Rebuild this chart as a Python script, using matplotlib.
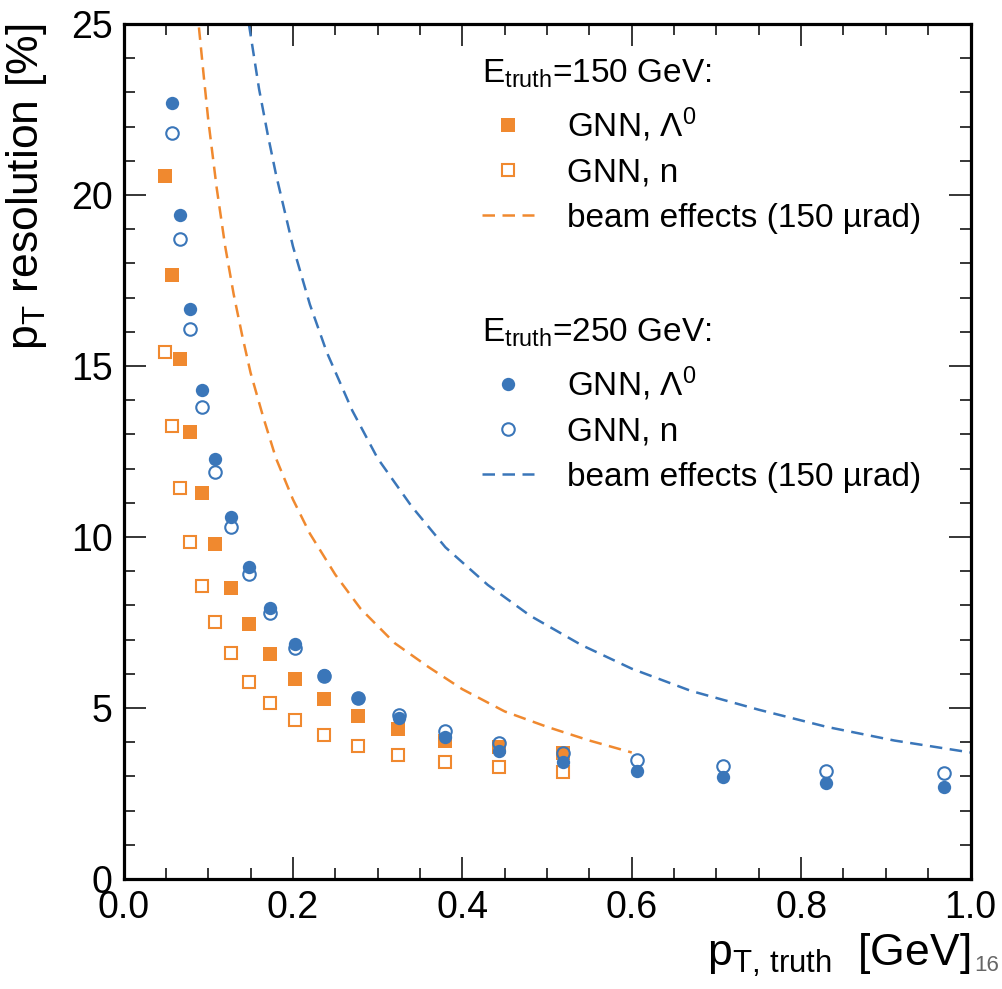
import matplotlib
matplotlib.use('Agg')
import matplotlib.pyplot as plt
from matplotlib.ticker import MultipleLocator

plt.rcParams['font.family'] = ['Liberation Sans', 'DejaVu Sans']
plt.rcParams['mathtext.fontset'] = 'custom'
plt.rcParams['mathtext.rm'] = 'Liberation Sans'
plt.rcParams['mathtext.it'] = 'Liberation Sans:italic'

orange = '#f0892f'
blue = '#3a76b9'

# E_truth = 150 GeV
pt_150 = [0.0486, 0.0569, 0.0667, 0.0785, 0.0923, 0.108, 0.1266, 0.148, 0.173,
          0.2025, 0.2367, 0.277, 0.3245, 0.3795, 0.443, 0.5186]
res_150_lambda = [20.56, 17.66, 15.20, 13.08, 11.30, 9.81, 8.52, 7.45, 6.58,
                  5.85, 5.25, 4.77, 4.38, 4.04, 3.87, 3.69]
res_150_n = [15.40, 13.25, 11.42, 9.86, 8.57, 7.52, 6.60, 5.77, 5.16,
             4.65, 4.21, 3.90, 3.63, 3.43, 3.27, 3.14]

# E_truth = 250 GeV
pt_250 = [0.0569, 0.0667, 0.0785, 0.0923, 0.108, 0.1266, 0.148, 0.173, 0.2025,
          0.2367, 0.277, 0.3253, 0.3795, 0.443, 0.5186, 0.606, 0.708, 0.829, 0.969]
res_250_lambda = [22.68, 19.43, 16.68, 14.30, 12.29, 10.59, 9.13, 7.92, 6.86,
                  5.97, 5.28, 4.70, 4.16, 3.75, 3.43, 3.17, 2.97, 2.82, 2.70]
res_250_n = [21.80, 18.70, 16.07, 13.81, 11.91, 10.28, 8.91, 7.77, 6.76,
             5.95, 5.30, 4.80, 4.34, 3.97, 3.69, 3.48, 3.31, 3.17, 3.09]

# beam effects curves
beam_x_150 = [0.089, 0.095, 0.10, 0.11, 0.12, 0.13, 0.14, 0.15, 0.165, 0.18, 0.20,
              0.22, 0.25, 0.28, 0.32, 0.36, 0.40, 0.45, 0.50, 0.55, 0.60]
beam_y_150 = [24.9, 23.4, 22.2, 20.2, 18.5, 17.1, 15.9, 14.8, 13.5, 12.3, 11.1,
              10.1, 8.9, 7.9, 6.9, 6.2, 5.55, 4.9, 4.45, 4.05, 3.7]
beam_x_250 = [0.148, 0.16, 0.17, 0.18, 0.20, 0.22, 0.24, 0.27, 0.30, 0.34, 0.38,
              0.43, 0.48, 0.54, 0.60, 0.67, 0.75, 0.83, 0.91, 1.0]
beam_y_250 = [25.0, 23.1, 21.8, 20.6, 18.5, 16.8, 15.4, 13.7, 12.3, 10.9, 9.7,
              8.6, 7.7, 6.85, 6.15, 5.5, 4.95, 4.45, 4.05, 3.7]

fig = plt.figure(figsize=(10.02, 9.89), dpi=100)
ax = fig.add_axes([0.1233, 0.1112, 0.8453, 0.8645])

dash = (0, (5, 3))
l1, = ax.plot(beam_x_150, beam_y_150, ls=dash, color=orange, lw=1.8)
l2, = ax.plot(beam_x_250, beam_y_250, ls=dash, color=blue, lw=1.8)

m1, = ax.plot(pt_150, res_150_lambda, 's', color=orange, ms=9.4, mew=0, ls='none')
m2, = ax.plot(pt_150, res_150_n, 's', mfc='white', mec=orange, ms=9, mew=1.5, ls='none')
m4, = ax.plot(pt_250, res_250_n, 'o', mfc='none', mec=blue, ms=9, mew=1.5, ls='none')
m3, = ax.plot(pt_250, res_250_lambda, 'o', color=blue, ms=9.6, mew=0, ls='none')

ax.set_xlim(0, 1.0)
ax.set_ylim(0, 25)
ax.xaxis.set_major_locator(MultipleLocator(0.2))
ax.xaxis.set_minor_locator(MultipleLocator(0.05))
ax.yaxis.set_major_locator(MultipleLocator(5))
ax.yaxis.set_minor_locator(MultipleLocator(1))
ax.tick_params(which='both', direction='in', top=True, right=True, width=1.1)
ax.tick_params(which='major', length=16, labelsize=27, pad=8)
ax.tick_params(which='minor', length=8)
for s in ax.spines.values():
    s.set_linewidth(2.3)

ax.set_xlabel(r'$\mathrm{p}_{\mathrm{T,\,truth}}$  [GeV]', fontsize=32, loc='right')
ax.xaxis.label.set_verticalalignment('baseline')
ax.xaxis.set_label_coords(1.0, -0.101)
ax.set_ylabel(r'$\mathrm{p}_{\mathrm{T}}$ resolution [%]', fontsize=32, loc='top')
ax.yaxis.set_label_coords(-0.088, 1.0)

# legend headers
ax.text(0.423, 0.931, r'E$_{\mathrm{truth}}$=150 GeV:', transform=ax.transAxes,
        fontsize=24, va='baseline', ha='left')
ax.text(0.423, 0.628, r'E$_{\mathrm{truth}}$=250 GeV:', transform=ax.transAxes,
        fontsize=24, va='baseline', ha='left')

kw = dict(loc='upper left', frameon=False, fontsize=24, borderpad=0, borderaxespad=0,
          handlelength=1.56, handletextpad=1.0, labelspacing=0.42, numpoints=1)
leg1 = ax.legend([m1, m2, l1], ['GNN, Λ$^0$', 'GNN, n', 'beam effects (150 µrad)'],
                 bbox_to_anchor=(0.423, 0.905), **kw)
ax.add_artist(leg1)
ax.legend([m3, m4, l2], ['GNN, Λ$^0$', 'GNN, n', 'beam effects (150 µrad)'],
          bbox_to_anchor=(0.423, 0.602), **kw)

fig.text(0.997, 0.018, '16', ha='right', va='baseline', fontsize=16, color='#666666')

fig.savefig('out.png', dpi=100)
